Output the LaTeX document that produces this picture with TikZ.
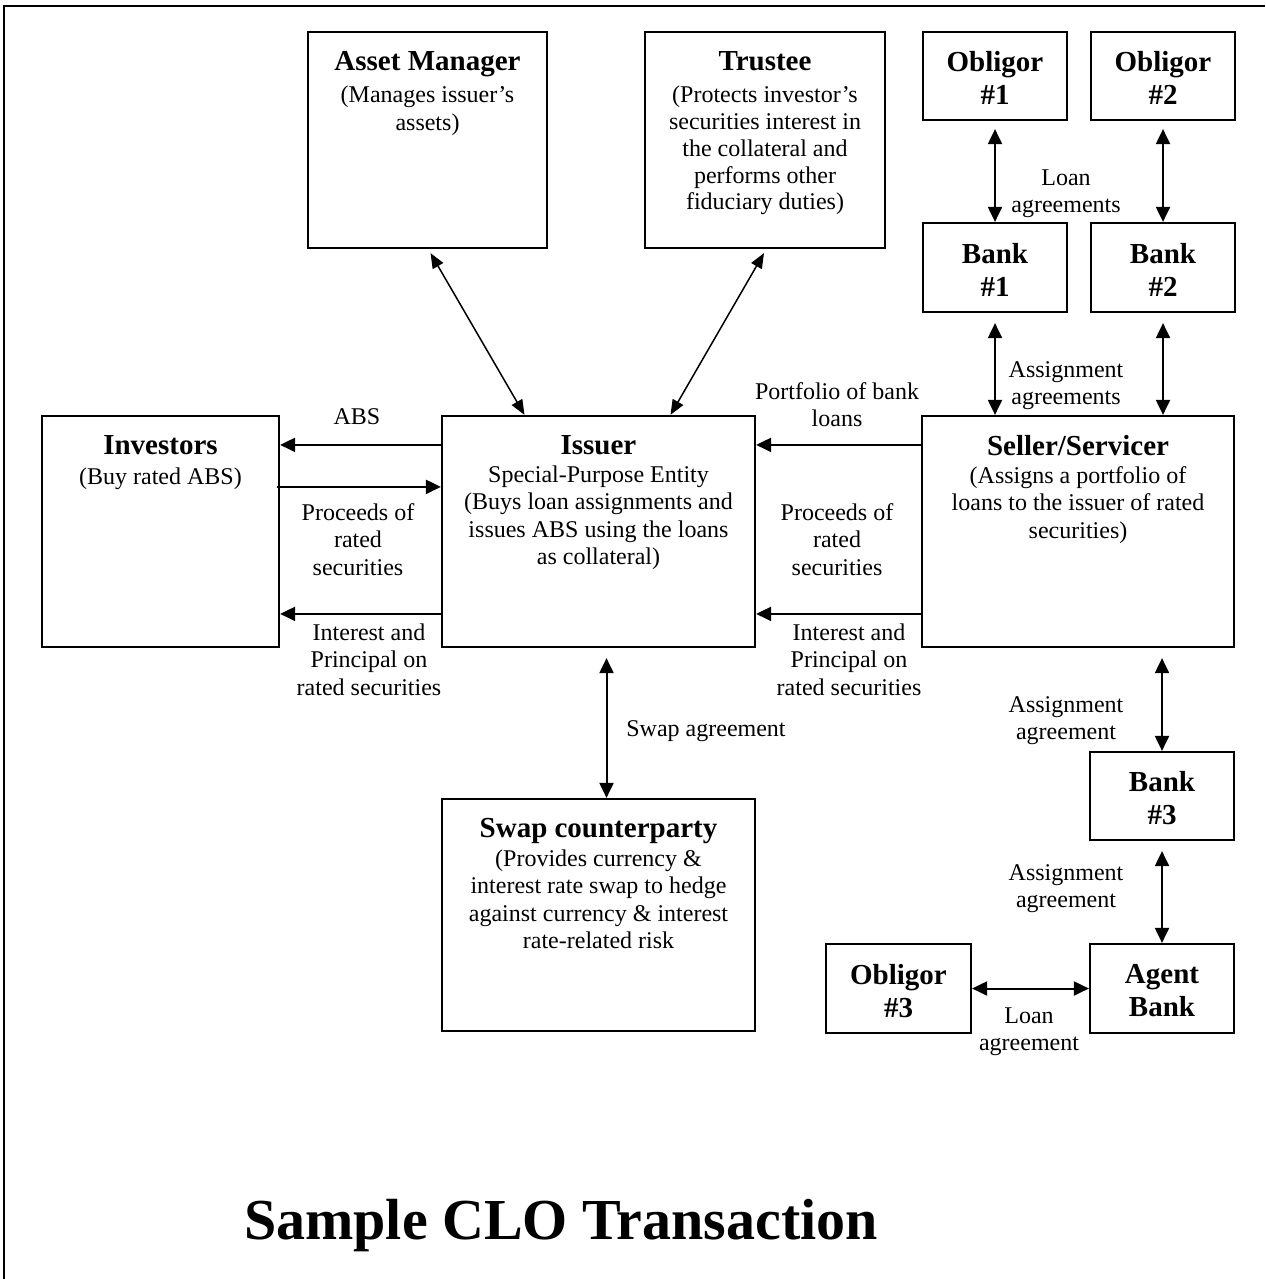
\documentclass[tikz,border=0pt]{standalone}
\usepackage{fontspec}
\setmainfont{Liberation Serif}
\usetikzlibrary{arrows.meta,fit,calc}
% fixed first-line height so every text block can be placed by its first baseline
\newcommand\firstln{\rule{0pt}{11pt}}
\newcommand\hd[1]{{\fontsize{14.5}{16}\selectfont\bfseries #1}}
\begin{document}
\begin{tikzpicture}[x=0.5pt,y=-0.5pt,
  box/.style={draw,line width=1.1pt,inner sep=0pt},
  txt/.style={anchor=north,inner sep=0pt,align=center,
    font=\fontsize{12}{13.75}\selectfont,execute at begin node=\firstln},
  bigtxt/.style={anchor=north,inner sep=0pt,align=center,
    font=\fontsize{14.5}{16.5}\selectfont\bfseries,execute at begin node=\firstln},
  lbl/.style={txt},
  flow/.style={line width=1pt,-{Triangle[length=7.5pt,width=7pt]}},
  both/.style={line width=1pt,{Triangle[length=7.5pt,width=7pt]}-{Triangle[length=7.5pt,width=7pt]}},
  slant/.style={line width=0.75pt,{Triangle[length=7.5pt,width=6pt]}-{Triangle[length=7.5pt,width=6pt]}}]
\useasboundingbox (0,0) rectangle (1265,1279);

% page frame (top and left edges)
\draw[line width=1pt] (4,1279) -- (4,6) -- (1265,6);

% boxes
\node[box,fit={(308,32) (547,248)}] (am) {};
\node[box,fit={(645,32) (885,248)}] (tr) {};
\node[box,fit={(923,32) (1067,120)}] (o1) {};
\node[box,fit={(1091,32) (1235,120)}] (o2) {};
\node[box,fit={(923,223) (1067,312)}] (b1) {};
\node[box,fit={(1091,223) (1235,312)}] (b2) {};
\node[box,fit={(42,416) (279,647)}] (inv) {};
\node[box,fit={(442,416) (755,647)}] (iss) {};
\node[box,fit={(922,416) (1234,647)}] (sel) {};
\node[box,fit={(442,799) (755,1031)}] (sw) {};
\node[box,fit={(1090,752) (1234,840)}] (b3) {};
\node[box,fit={(1090,944) (1234,1033)}] (ag) {};
\node[box,fit={(826,944) (971,1033)}] (o3) {};

% box texts
\node[txt] (amt) at ([yshift=-10pt]am.north) {\hd{Asset Manager}\\[2.5pt](Manages issuer's\\assets)};
\node[txt,font=\fontsize{12}{13.4}\selectfont] (trt) at ([yshift=-10pt]tr.north) {\hd{Trustee}\\[2.8pt](Protects investor's\\securities interest in\\the collateral and\\performs other\\fiduciary duties)};
\node[bigtxt] (o1t) at ([yshift=-10pt]o1.north) {Obligor\\\#1};
\node[bigtxt] (o2t) at ([yshift=-10pt]o2.north) {Obligor\\\#2};
\node[bigtxt] (b1t) at ([yshift=-10.5pt]b1.north) {Bank\\\#1};
\node[bigtxt] (b2t) at ([yshift=-10.5pt]b2.north) {Bank\\\#2};
\node[txt] (invt) at ([yshift=-10pt]inv.north) {\hd{Investors}\\[1.5pt](Buy rated ABS)};
\node[txt] (isst) at ([yshift=-10pt]iss.north) {\hd{Issuer}\\[0.25pt]Special-Purpose Entity\\(Buys loan assignments and\\issues ABS using the loans\\as collateral)};
\node[txt] (selt) at ([yshift=-10pt]sel.north) {\hd{Seller/Servicer}\\[0.25pt](Assigns a portfolio of\\loans to the issuer of rated\\securities)};
\node[txt] (swt) at ([yshift=-10pt]sw.north) {\hd{Swap counterparty}\\[0.5pt](Provides currency \&\\interest rate swap to hedge\\against currency \& interest\\rate-related risk};
\node[bigtxt] (b3t) at ([yshift=-10pt]b3.north) {Bank\\\#3};
\node[bigtxt] (agt) at ([yshift=-10.5pt]ag.north) {Agent\\Bank};
\node[bigtxt] (o3t) at ([yshift=-10.5pt]o3.north) {Obligor\\\#3};

% connectors
\draw[both] ([yshift=-4pt]o1.south) -- (b1.north);
\draw[both] ([yshift=-4pt]o2.south) -- (b2.north);
\draw[both] ([yshift=-5pt]b1.south) -- (b1.south |- sel.north);
\draw[both] ([yshift=-5pt]b2.south) -- (b2.south |- sel.north);
\draw[slant] ($(am.south)+(3,4)$) -- ($(iss.north)+(-74,0)$);
\draw[slant] ($(tr.south)+(-1,4)$) -- ($(iss.north)+(72,0)$);
\draw[flow] ($(iss.north west)+(0,30)$) -- ($(inv.north east)+(0,30)$);
\draw[flow] ($(inv.north east)+(-3,72)$) -- ($(iss.north west)+(0,72)$);
\draw[flow] ($(iss.north west)+(0,199)$) -- ($(inv.north east)+(0,199)$);
\draw[flow] ($(sel.north west)+(0,30)$) -- ($(iss.north east)+(0,30)$);
\draw[flow] ($(sel.north west)+(0,199)$) -- ($(iss.north east)+(0,199)$);
\draw[both] ($(iss.south)+(8,10)$) -- ($(sw.north)+(8,0)$);
\draw[both] ($(b3.north |- sel.south)+(0,10)$) -- (b3.north);
\draw[both] ([yshift=-5pt]b3.south) -- (ag.north);
\draw[both] (o3.east) -- (ag.west);

% connector labels
\node[lbl] (l1) at (1066,169) {Loan\\agreements};
\node[lbl] (l2) at (1066,361) {Assignment\\agreements};
\node[lbl] (l3) at (357,402) {ABS};
\node[lbl] (l4) at (358,503) {Proceeds of\\rated\\securities};
\node[lbl] (l5) at (369,623) {Interest and\\Principal on\\rated securities};
\node[lbl] (l6) at (837,382) {Portfolio of bank\\loans};
\node[lbl] (l7) at (837,503) {Proceeds of\\rated\\securities};
\node[lbl] (l8) at (849,623) {Interest and\\Principal on\\rated securities};
\node[lbl] (l9) at (706,714) {Swap agreement};
\node[lbl] (l10) at (1066,696) {Assignment\\agreement};
\node[lbl] (l11) at (1066,864) {Assignment\\agreement};
\node[lbl] (l12) at (1029,1007) {Loan\\agreement};

% caption
\node[font=\fontsize{29}{33}\selectfont\bfseries,anchor=base,inner sep=0pt] (title) at (561,1239) {Sample CLO Transaction};
\end{tikzpicture}
\end{document}
